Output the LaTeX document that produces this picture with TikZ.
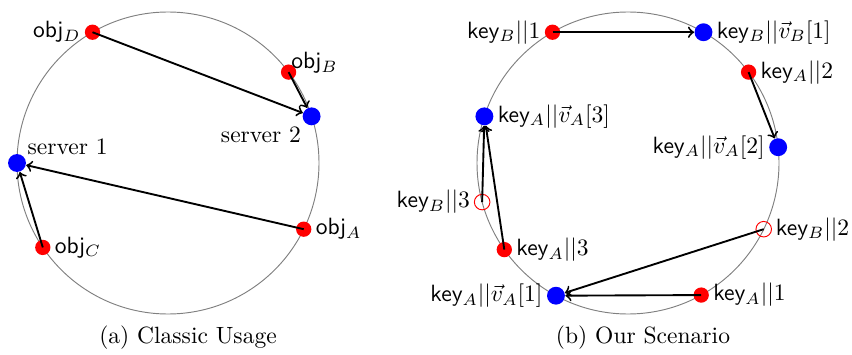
\documentclass[tikz,border=0pt]{standalone}
\usepackage{amsmath,amssymb}
\usetikzlibrary{positioning}
\begin{document}
\begin{tikzpicture}[x=0.425pt,y=0.425pt,
    obj style/.style={circle,fill=red,inner sep=0pt,minimum size=6.5pt},
    srv style/.style={circle,fill=blue,inner sep=0pt,minimum size=7.6pt},
    vide style/.style={circle,draw=red,inner sep=0pt,minimum size=6.6pt},
    lbl style/.style={inner sep=1.5pt},
    fleche/.style={->,thick}]
    \useasboundingbox (0,0) rectangle (852,354);

    % (a) usage classique
    \begin{scope}[shift={(168,191)}]
        \draw[gray] (0,0) circle (151);
        \node[obj style] (objD) at (120:151) {};
        \node[obj style] (objB) at (37:151) {};
        \node[srv style] (srvB) at (18:151) {};
        \node[srv style] (srvA) at (180:151) {};
        \node[obj style] (objA) at (-26:151) {};
        \node[obj style] (objC) at (214:151) {};
    \end{scope}
    \node[lbl style,left=0pt of objD] (tD) {\textsf{obj}$_D$};
    \node[lbl style,above right=-4.7pt and -3pt of objB] (tB) {\textsf{obj}$_B$};
    \node[lbl style,below left=0pt of srvB] (tsB) {server 2};
    \node[lbl style,above right=-1pt and 0pt of srvA] (tsA) {server 1};
    \node[lbl style,right=0pt of objA] (tA) {\textsf{obj}$_A$};
    \node[lbl style,right=0pt of objC] (tC) {\textsf{obj}$_C$};

    \draw[fleche] (objD.center) -- (srvB);
    \draw[fleche] (objB.center) -- (srvB);
    \draw[fleche] (objA.center) -- (srvA);
    \draw[fleche] (objC.center) -- (srvA);

    % (b) notre scenario
    \begin{scope}[shift={(628,191)}]
        \draw[gray] (0,0) circle (151);
        \node[obj style] (kB1) at (120:151) {};
        \node[srv style] (vB1) at (60:151) {};
        \node[obj style] (kA2) at (37:151) {};
        \node[srv style] (vA2) at (6:151) {};
        \node[srv style] (vA3) at (162:151) {};
        \node[vide style] (kB3) at (195:151) {};
        \node[obj style] (kA3) at (215:151) {};
        \node[vide style] (kB2) at (-26:151) {};
        \node[obj style] (kA1) at (-61:151) {};
        \node[srv style] (vA1) at (241.5:151) {};
    \end{scope}
    \node[lbl style,left=0pt of kB1] (tkB1) {\textsf{key}$_B||1$};
    \node[lbl style,right=0pt of vB1] (tvB1) {\textsf{key}$_B||\vec{v}_B[1]$};
    \node[lbl style,right=0pt of kA2] (tkA2) {\textsf{key}$_A||2$};
    \node[lbl style,left=0pt of vA2] (tvA2) {\textsf{key}$_A||\vec{v}_A[2]$};
    \node[lbl style,right=0pt of vA3] (tvA3) {\textsf{key}$_A||\vec{v}_A[3]$};
    \node[lbl style,left=0pt of kB3] (tkB3) {\textsf{key}$_B||3$};
    \node[lbl style,right=0pt of kA3] (tkA3) {\textsf{key}$_A||3$};
    \node[lbl style,right=0pt of kB2] (tkB2) {\textsf{key}$_B||2$};
    \node[lbl style,right=0pt of kA1] (tkA1) {\textsf{key}$_A||1$};
    \node[lbl style,left=0pt of vA1] (tvA1) {\textsf{key}$_A||\vec{v}_A[1]$};

    \draw[fleche] (kB1.center) -- (vB1);
    \draw[fleche] (kA2.center) -- (vA2);
    \draw[fleche] (kB3.center) -- (vA3);
    \draw[fleche] (kA3.center) -- (vA3);
    \draw[fleche] (kB2.center) -- (vA1);
    \draw[fleche] (kA1.center) -- (vA1);

    % legendes
    \node (capA) at (188,16) {(a) Classic Usage};
    \node (capB) at (643,16) {(b) Our Scenario};
\end{tikzpicture}
\end{document}
